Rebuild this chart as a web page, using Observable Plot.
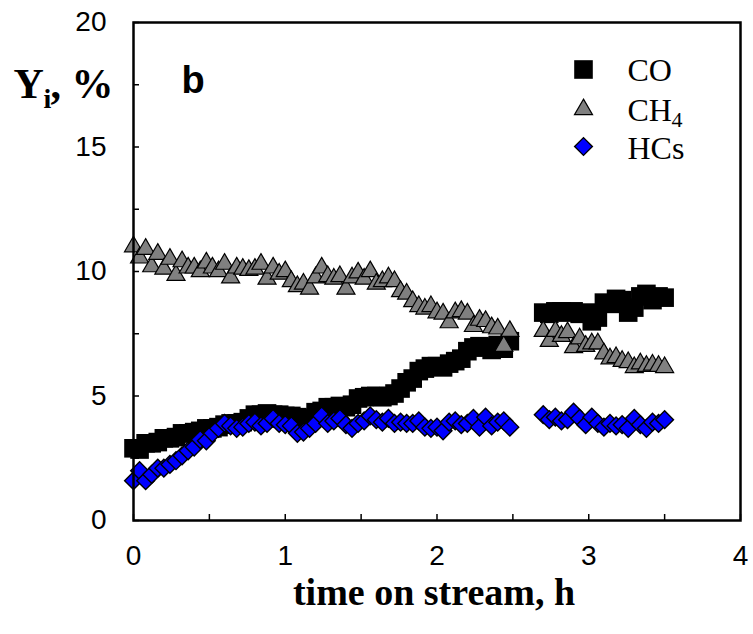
<!DOCTYPE html>
<html><head><meta charset="utf-8">
<script src="https://cdn.jsdelivr.net/npm/d3@7"></script>
<script src="https://cdn.jsdelivr.net/npm/@observablehq/plot@0.6"></script>
<style>html,body{margin:0;padding:0;background:#fff}</style>
</head><body><div id="chart"></div>
<script>
const time = [0.00,0.04,0.08,0.12,0.16,0.20,0.24,0.28,0.32,0.36,0.40,0.44,0.48,0.52,0.56,0.60,0.64,0.68,0.72,0.76,0.80,0.84,0.88,0.92,0.96,1.00,1.04,1.08,1.12,1.16,1.20,1.24,1.28,1.32,1.36,1.40,1.44,1.48,1.52,1.56,1.60,1.64,1.68,1.72,1.76,1.80,1.84,1.88,1.92,1.96,2.00,2.04,2.08,2.12,2.16,2.20,2.24,2.28,2.32,2.36,2.40,2.44,2.48,
  2.70,2.74,2.78,2.82,2.86,2.90,2.94,2.98,3.02,3.06,3.10,3.14,3.18,3.22,3.26,3.30,3.34,3.38,3.42,3.46,3.50];
const co = [2.9,2.85,3.1,3.1,3.15,3.3,3.3,3.35,3.5,3.5,3.55,3.6,3.7,3.7,3.75,3.85,3.9,3.9,3.95,4.1,4.25,4.25,4.3,4.25,4.25,4.2,4.2,4.15,4.0,4.1,4.35,4.4,4.55,4.55,4.6,4.55,4.65,4.9,4.95,5.0,5.0,4.95,5.0,5.1,5.3,5.55,5.7,6.0,6.1,6.2,6.2,6.15,6.3,6.4,6.5,6.8,6.95,7.0,6.95,6.85,7.05,6.9,7.2,
  8.35,8.3,8.4,8.4,8.35,8.4,8.3,8.35,8.0,8.15,8.75,8.7,8.9,8.85,8.35,8.55,9.0,9.1,8.85,9.0,8.95];
const ch4 = [11.0,10.55,10.9,10.2,10.7,10.1,10.5,9.85,10.4,10.15,10.15,10.0,10.35,10.15,10.0,10.3,9.75,10.15,10.1,10.05,10.1,10.3,9.7,10.15,9.9,10.0,9.6,9.4,9.5,9.3,9.75,10.15,9.8,9.7,9.8,9.3,9.75,9.95,9.7,10.0,9.5,9.6,9.75,9.6,9.2,9.1,8.8,8.6,8.5,8.6,8.35,8.3,7.95,8.35,8.4,8.3,7.8,8.05,8.0,7.75,7.7,7.0,7.6,
  7.6,7.2,7.6,7.4,7.55,6.95,7.3,7.0,7.1,7.1,6.7,6.5,6.55,6.4,6.35,6.15,6.3,6.2,6.25,6.2,6.15];
const hcs = [1.6,2.0,1.6,1.85,2.1,2.1,2.25,2.4,2.6,2.8,2.95,3.25,3.2,3.5,3.7,3.9,3.8,3.7,3.75,3.9,3.95,3.8,3.9,4.1,3.9,3.85,3.8,3.5,3.55,3.7,3.9,4.2,3.9,4.0,4.1,3.85,3.7,3.9,4.0,4.2,4.05,3.95,4.1,3.9,3.95,3.9,3.9,4.0,3.75,3.7,3.75,3.6,3.95,4.0,3.85,3.9,4.1,3.75,4.15,3.8,3.95,4.0,3.75,
  4.25,4.05,4.15,4.0,4.05,4.35,4.1,3.85,4.15,3.9,3.75,3.9,3.8,3.85,3.7,4.1,3.85,3.7,3.95,3.9,4.05];
const xTicks = [0,0.5,1,1.5,2,2.5,3,3.5,4];
const yTicks = [0,2.5,5,7.5,10,12.5,15,17.5,20];
const seriesNames = ["CO","CH","HCs"];

const rows = time.map((t,i)=>({t, co: co[i], ch4: ch4[i], hcs: hcs[i]}));
const serif = "Liberation Serif, Times New Roman, serif";
const sans = "Liberation Sans, Arial, sans-serif";

const chart = Plot.plot({
  width: 753, height: 634,
  marginLeft: 133, marginRight: 13, marginTop: 22, marginBottom: 114,
  style: {background: "white", color: "black", fontFamily: sans},
  x: {domain: [0,4], label: null},
  y: {domain: [0,20], label: null},
  marks: [
    Plot.axisY({ticks: yTicks, tickSize: -6, tickPadding: 33, strokeWidth: 1.5, label: null,
      tickFormat: d => (d % 5 === 0 ? String(d) : ""), fontSize: 28, fontFamily: sans}),
    Plot.axisX({ticks: xTicks, tickSize: -6, tickPadding: 31, strokeWidth: 1.5, label: null,
      tickFormat: d => (Number.isInteger(d) ? String(d) : ""), fontSize: 28, fontFamily: sans}),
    Plot.dot(rows, {x: "t", y: "co", symbol: "square", r: 10.5, fill: "black", stroke: null}),
    Plot.dot(rows, {x: "t", y: "ch4", symbol: "triangle", r: 6.7, fill: "#808080", stroke: "black", strokeWidth: 1.2}),
    Plot.dot(rows, {x: "t", y: "hcs", symbol: "diamond2", r: 8, fill: "#0000ff", stroke: "black", strokeWidth: 1.4}),
    Plot.frame({stroke: "black", strokeWidth: 2.5}),
    // legend
    Plot.dot([0], {frameAnchor: "top-right", dx: -157, dy: 47, symbol: "square", r: 10.5, fill: "black"}),
    Plot.dot([0], {frameAnchor: "top-right", dx: -157, dy: 87, symbol: "triangle", r: 6.7, fill: "#808080", stroke: "black", strokeWidth: 1.2}),
    Plot.dot([0], {frameAnchor: "top-right", dx: -157, dy: 124, symbol: "diamond2", r: 8, fill: "#0000ff", stroke: "black", strokeWidth: 1.4}),
    Plot.text([seriesNames[0]], {frameAnchor: "top-right", dx: -113, dy: 58, textAnchor: "start", lineAnchor: "bottom", fontFamily: serif, fontSize: 32, fill: "black"}),
    Plot.text([seriesNames[1]], {frameAnchor: "top-right", dx: -113, dy: 98, textAnchor: "start", lineAnchor: "bottom", fontFamily: serif, fontSize: 32, fill: "black"}),
    Plot.text(["4"], {frameAnchor: "top-right", dx: -69, dy: 104, textAnchor: "start", lineAnchor: "bottom", fontFamily: serif, fontSize: 22, fill: "black"}),
    Plot.text([seriesNames[2]], {frameAnchor: "top-right", dx: -113, dy: 136, textAnchor: "start", lineAnchor: "bottom", fontFamily: serif, fontSize: 32, fill: "black"}),
    // panel letter
    Plot.text(["b"], {frameAnchor: "top-left", dx: 48, dy: 70, textAnchor: "start", lineAnchor: "bottom", fontFamily: sans, fontWeight: "bold", fontSize: 38, fill: "black"}),
    // y title
    Plot.text(["Y"], {frameAnchor: "top-left", dx: -120, dy: 75, textAnchor: "start", lineAnchor: "bottom", fontFamily: serif, fontWeight: "bold", fontSize: 42, fill: "black"}),
    Plot.text(["i"], {frameAnchor: "top-left", dx: -90, dy: 85, textAnchor: "start", lineAnchor: "bottom", fontFamily: serif, fontWeight: "bold", fontSize: 28, fill: "black"}),
    Plot.text([", %"], {frameAnchor: "top-left", dx: -83, dy: 75, textAnchor: "start", lineAnchor: "bottom", fontFamily: serif, fontWeight: "bold", fontSize: 42, fill: "black"}),
    // x title
    Plot.text(["time on stream, h"], {frameAnchor: "bottom", dx: -3, dy: 84, textAnchor: "middle", lineAnchor: "bottom", fontFamily: serif, fontWeight: "bold", fontSize: 38, fill: "black"})
  ]
});
document.getElementById("chart").appendChild(chart);
</script>
</body></html>
